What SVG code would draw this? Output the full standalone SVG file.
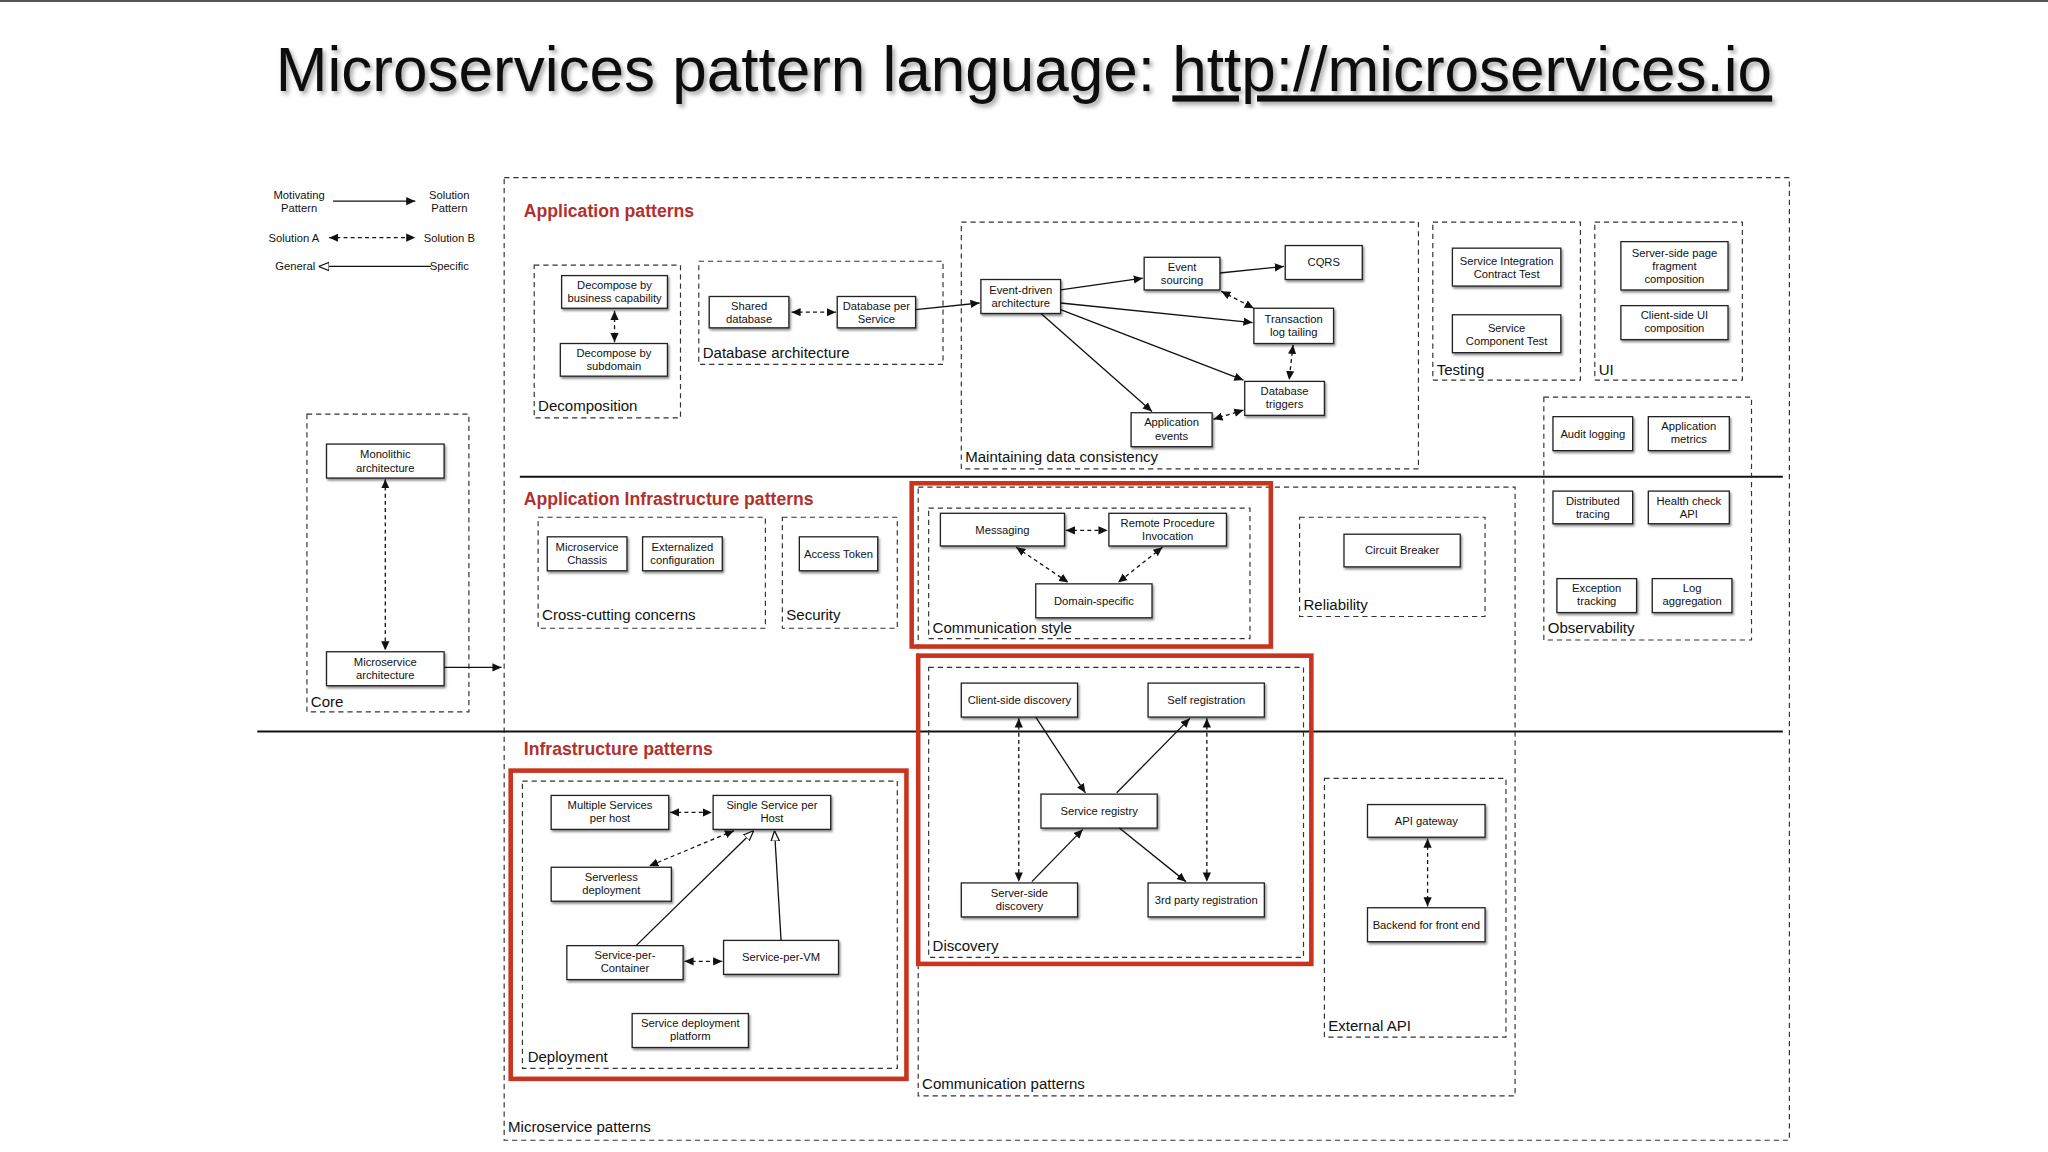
<svg xmlns="http://www.w3.org/2000/svg" width="2048" height="1152" viewBox="0 0 2048 1152">
<style>
text{font-family:"Liberation Sans",Arial,sans-serif;fill:#111}
.n rect{fill:#fff;stroke:#222;stroke-width:1;filter:url(#sh)}
.n text{font-size:8.6px;text-anchor:middle}
.g{fill:none;stroke:#333;stroke-width:0.9;stroke-dasharray:4 3}
.gl{font-size:11.5px}
.red{fill:none;stroke:#c9341f;stroke-width:3.5}
.sec{font-size:13.5px;font-weight:bold;fill:#b3302c}
.c line,.c path{stroke:#111;stroke-width:1;fill:none}
.d{stroke-dasharray:3 2.5}
.s{marker-end:url(#a)}
.b{marker-start:url(#as);marker-end:url(#a)}
.o{marker-end:url(#t)}
</style>
<defs>
<filter id="sh" x="-10%" y="-10%" width="130%" height="140%"><feDropShadow dx="1" dy="1.5" stdDeviation="0.8" flood-color="#000" flood-opacity="0.45"/></filter>
<filter id="tsh" x="-5%" y="-20%" width="110%" height="150%"><feDropShadow dx="2" dy="2.5" stdDeviation="1.5" flood-color="#000" flood-opacity="0.35"/></filter>
<marker id="a" viewBox="0 0 10 10" refX="10" refY="5" markerWidth="7" markerHeight="7" markerUnits="userSpaceOnUse" orient="auto"><path d="M0,0.5L10,5L0,9.5z" fill="#111"/></marker>
<marker id="as" viewBox="0 0 10 10" refX="0" refY="5" markerWidth="7" markerHeight="7" markerUnits="userSpaceOnUse" orient="auto"><path d="M10,0.5L0,5L10,9.5z" fill="#111"/></marker>
<marker id="t" viewBox="0 0 10 10" refX="10" refY="5" markerWidth="8" markerHeight="8" markerUnits="userSpaceOnUse" orient="auto"><path d="M0,1L10,5L0,9z" fill="#fff" stroke="#111" stroke-width="1.2"/></marker>
</defs>
<rect width="2048" height="1152" fill="#fff"/>
<line x1="0" y1="1" x2="2048" y2="1" stroke="#555" stroke-width="2"/>
<g transform="scale(1.30612)">
<g id="title"><text x="784" y="70" font-size="47.5" text-anchor="middle" fill="#111" filter="url(#tsh)">Microservices pattern language: <tspan text-decoration="underline">http://microservices.io</tspan></text></g>

<g id="legend" font-size="8.6">
<text x="229" y="152" font-size="8.6" text-anchor="middle">Motivating</text><text x="229" y="162" font-size="8.6" text-anchor="middle">Pattern</text>
<text x="344" y="152" font-size="8.6" text-anchor="middle">Solution</text><text x="344" y="162" font-size="8.6" text-anchor="middle">Pattern</text>
<text x="225" y="185" font-size="8.6" text-anchor="middle">Solution A</text><text x="344" y="185" font-size="8.6" text-anchor="middle">Solution B</text>
<text x="226" y="207" font-size="8.6" text-anchor="middle">General</text><text x="344" y="207" font-size="8.6" text-anchor="middle">Specific</text>
<g class="c"><line class="s" x1="255" y1="154" x2="318" y2="154"/><line class="b d" x1="252" y1="182" x2="318" y2="182"/><line class="o" x1="330" y1="204" x2="244" y2="204"/></g>
</g>

<g id="frames">
<rect class="g" x="386" y="136" width="984" height="737"/><text class="gl" x="389" y="867">Microservice patterns</text>
<line x1="398" y1="365" x2="1365" y2="365" stroke="#111" stroke-width="1.5"/>
<line x1="197" y1="560" x2="1365" y2="560" stroke="#111" stroke-width="1.5"/>
<text class="sec" x="401" y="166">Application patterns</text>
<text class="sec" x="401" y="387">Application Infrastructure patterns</text>
<text class="sec" x="401" y="578">Infrastructure patterns</text>
<rect class="g" x="409" y="203" width="112" height="117"/><text class="gl" x="412" y="315">Decomposition</text>
<rect class="g" x="535" y="200" width="187" height="79"/><text class="gl" x="538" y="274">Database architecture</text>
<rect class="g" x="736" y="170" width="350" height="189"/><text class="gl" x="739" y="354">Maintaining data consistency</text>
<rect class="g" x="1097" y="170" width="113" height="121"/><text class="gl" x="1100" y="287">Testing</text>
<rect class="g" x="1221" y="170" width="113" height="121"/><text class="gl" x="1224" y="287">UI</text>
<rect class="g" x="1182" y="304" width="159" height="186"/><text class="gl" x="1185" y="485">Observability</text>
<rect class="g" x="235" y="317" width="124" height="228"/><text class="gl" x="238" y="541">Core</text>
<rect class="g" x="412" y="396" width="174" height="85"/><text class="gl" x="415" y="475">Cross-cutting concerns</text>
<rect class="g" x="599" y="396" width="88" height="85"/><text class="gl" x="602" y="475">Security</text>
<rect class="g" x="703" y="373" width="457" height="466"/><text class="gl" x="706" y="834">Communication patterns</text>
<rect class="g" x="711" y="389" width="246" height="100"/><text class="gl" x="714" y="485">Communication style</text>
<rect class="red" x="698" y="370" width="275" height="125"/>
<rect class="g" x="995" y="396" width="142" height="76"/><text class="gl" x="998" y="467">Reliability</text>
<rect class="g" x="711" y="511" width="287" height="222"/><text class="gl" x="714" y="728">Discovery</text>
<rect class="red" x="703" y="502" width="301" height="236"/>
<rect class="g" x="1014" y="596" width="139" height="198"/><text class="gl" x="1017" y="789">External API</text>
<rect class="g" x="400" y="598" width="287" height="220"/><text class="gl" x="404" y="813">Deployment</text>
<rect class="red" x="391" y="590" width="303" height="236"/>
</g>

<g id="nodes">
<g id="n-dbc" class="n"><rect x="430" y="211" width="81" height="25"/><text x="470.5" y="221.5">Decompose by</text><text x="470.5" y="231.5">business capability</text></g>
<g id="n-dsd" class="n"><rect x="429" y="263" width="82" height="25"/><text x="470" y="273.5">Decompose by</text><text x="470" y="283.5">subdomain</text></g>
<g id="n-shdb" class="n"><rect x="543" y="227" width="61" height="24"/><text x="573.5" y="237">Shared</text><text x="573.5" y="247">database</text></g>
<g id="n-dbps" class="n"><rect x="641" y="227" width="60" height="24"/><text x="671" y="237">Database per</text><text x="671" y="247">Service</text></g>
<g id="n-eda" class="n"><rect x="751" y="214" width="61" height="26"/><text x="781.5" y="225">Event-driven</text><text x="781.5" y="235">architecture</text></g>
<g id="n-es" class="n"><rect x="876" y="197" width="58" height="25"/><text x="905" y="207.5">Event</text><text x="905" y="217.5">sourcing</text></g>
<g id="n-cqrs" class="n"><rect x="984" y="188" width="59" height="26"/><text x="1013.5" y="204">CQRS</text></g>
<g id="n-tlt" class="n"><rect x="960" y="236" width="61" height="27"/><text x="990.5" y="247">Transaction</text><text x="990.5" y="257">log tailing</text></g>
<g id="n-dt" class="n"><rect x="953" y="292" width="61" height="26"/><text x="983.5" y="302.5">Database</text><text x="983.5" y="312.5">triggers</text></g>
<g id="n-ae" class="n"><rect x="866" y="316" width="62" height="26"/><text x="897" y="326.5">Application</text><text x="897" y="336.5">events</text></g>
<g id="n-sict" class="n"><rect x="1112" y="190" width="83" height="29"/><text x="1153.5" y="203">Service Integration</text><text x="1153.5" y="213">Contract Test</text></g>
<g id="n-sct" class="n"><rect x="1112" y="241" width="83" height="29"/><text x="1153.5" y="254">Service</text><text x="1153.5" y="264">Component Test</text></g>
<g id="n-sspf" class="n"><rect x="1241" y="185" width="82" height="37"/><text x="1282" y="197">Server-side page</text><text x="1282" y="207">fragment</text><text x="1282" y="217">composition</text></g>
<g id="n-csui" class="n"><rect x="1241" y="234" width="82" height="26"/><text x="1282" y="244.5">Client-side  UI</text><text x="1282" y="254.5">composition</text></g>
<g id="n-al" class="n"><rect x="1189" y="319" width="61" height="26"/><text x="1219.5" y="335">Audit logging</text></g>
<g id="n-am" class="n"><rect x="1262" y="319" width="62" height="26"/><text x="1293" y="329.5">Application</text><text x="1293" y="339.5">metrics</text></g>
<g id="n-dtr" class="n"><rect x="1189" y="376" width="61" height="25"/><text x="1219.5" y="386.5">Distributed</text><text x="1219.5" y="396.5">tracing</text></g>
<g id="n-hc" class="n"><rect x="1262" y="376" width="62" height="25"/><text x="1293" y="386.5">Health check</text><text x="1293" y="396.5">API</text></g>
<g id="n-et" class="n"><rect x="1192" y="443" width="61" height="26"/><text x="1222.5" y="453.5">Exception</text><text x="1222.5" y="463.5">tracking</text></g>
<g id="n-la" class="n"><rect x="1265" y="443" width="61" height="26"/><text x="1295.5" y="453.5">Log</text><text x="1295.5" y="463.5">aggregation</text></g>
<g id="n-mono" class="n"><rect x="250" y="340" width="90" height="26"/><text x="295" y="351">Monolithic</text><text x="295" y="361">architecture</text></g>
<g id="n-msa" class="n"><rect x="250" y="499" width="90" height="26"/><text x="295" y="510">Microservice</text><text x="295" y="520">architecture</text></g>
<g id="n-chassis" class="n"><rect x="419" y="411" width="61" height="26"/><text x="449.5" y="421.5">Microservice</text><text x="449.5" y="431.5">Chassis</text></g>
<g id="n-ext" class="n"><rect x="492" y="411" width="61" height="26"/><text x="522.5" y="421.5">Externalized</text><text x="522.5" y="431.5">configuration</text></g>
<g id="n-at" class="n"><rect x="612" y="411" width="60" height="26"/><text x="642" y="427">Access Token</text></g>
<g id="n-msg" class="n"><rect x="720" y="393" width="95" height="25"/><text x="767.5" y="408.5">Messaging</text></g>
<g id="n-rpi" class="n"><rect x="849" y="393" width="90" height="25"/><text x="894" y="403.5">Remote Procedure</text><text x="894" y="413.5">Invocation</text></g>
<g id="n-ds" class="n"><rect x="793" y="447" width="89" height="26"/><text x="837.5" y="463">Domain-specific</text></g>
<g id="n-cb" class="n"><rect x="1029" y="409" width="89" height="25"/><text x="1073.5" y="424.5">Circuit Breaker</text></g>
<g id="n-csd" class="n"><rect x="736" y="523" width="89" height="26"/><text x="780.5" y="539">Client-side discovery</text></g>
<g id="n-selfreg" class="n"><rect x="879" y="523" width="89" height="26"/><text x="923.5" y="539">Self registration</text></g>
<g id="n-sreg" class="n"><rect x="797" y="608" width="89" height="26"/><text x="841.5" y="624">Service registry</text></g>
<g id="n-ssd" class="n"><rect x="736" y="676" width="89" height="26"/><text x="780.5" y="686.5">Server-side</text><text x="780.5" y="696.5">discovery</text></g>
<g id="n-3pr" class="n"><rect x="879" y="676" width="89" height="26"/><text x="923.5" y="692">3rd party registration</text></g>
<g id="n-apigw" class="n"><rect x="1047" y="616" width="90" height="25"/><text x="1092" y="631.5">API gateway</text></g>
<g id="n-bff" class="n"><rect x="1047" y="695" width="90" height="26"/><text x="1092" y="711">Backend for front end</text></g>
<g id="n-msph" class="n"><rect x="422" y="609" width="90" height="26"/><text x="467" y="619.5">Multiple Services</text><text x="467" y="629.5">per host</text></g>
<g id="n-ssph" class="n"><rect x="546" y="609" width="90" height="26"/><text x="591" y="619.5">Single Service per</text><text x="591" y="629.5">Host</text></g>
<g id="n-sls" class="n"><rect x="422" y="664" width="92" height="26"/><text x="468" y="674.5">Serverless</text><text x="468" y="684.5">deployment</text></g>
<g id="n-spc" class="n"><rect x="434" y="724" width="89" height="26"/><text x="478.5" y="734.5">Service-per-</text><text x="478.5" y="744.5">Container</text></g>
<g id="n-spvm" class="n"><rect x="554" y="720" width="88" height="26"/><text x="598" y="736">Service-per-VM</text></g>
<g id="n-sdp" class="n"><rect x="484" y="776" width="89" height="26"/><text x="528.5" y="786.5">Service deployment</text><text x="528.5" y="796.5">platform</text></g>
</g>

<g id="connectors" class="c">
<line class="b d" x1="470.5" y1="238" x2="470.5" y2="262"/>
<line class="b d" x1="606" y1="239" x2="640" y2="239"/>
<line class="s" x1="701" y1="237" x2="750" y2="232"/>
<line class="s" x1="812" y1="222" x2="875" y2="213"/>
<line class="s" x1="934" y1="209" x2="983" y2="204"/>
<line class="s" x1="812" y1="232" x2="959" y2="247"/>
<line class="s" x1="812" y1="237" x2="952" y2="291"/>
<line class="s" x1="797" y1="240" x2="882" y2="315"/>
<line class="b d" x1="935" y1="223" x2="960" y2="236"/>
<line class="b d" x1="990" y1="264" x2="987" y2="291"/>
<line class="b d" x1="952" y1="314" x2="929" y2="321"/>
<line class="b d" x1="295" y1="367" x2="295" y2="498"/>
<line class="s" x1="340" y1="511" x2="384" y2="511"/>
<line class="b d" x1="816" y1="406" x2="848" y2="406"/>
<line class="b d" x1="778" y1="419" x2="818" y2="446"/>
<line class="b d" x1="890" y1="419" x2="856" y2="446"/>
<line class="s" x1="793" y1="549" x2="831" y2="607"/>
<line class="s" x1="855" y1="607" x2="911" y2="550"/>
<line class="s" x1="790" y1="675" x2="829" y2="635"/>
<line class="s" x1="857" y1="634" x2="908" y2="675"/>
<line class="b d" x1="780" y1="550" x2="780" y2="675"/>
<line class="b d" x1="924" y1="550" x2="924" y2="675"/>
<line class="b d" x1="1093" y1="642" x2="1093" y2="694"/>
<line class="b d" x1="513" y1="622" x2="545" y2="622"/>
<line class="b d" x1="562" y1="636" x2="497" y2="663"/>
<line class="o" x1="487" y1="724" x2="577" y2="636"/>
<line class="o" x1="598" y1="720" x2="593" y2="636"/>
<line class="b d" x1="524" y1="736" x2="553" y2="736"/>
</g>
</g>
</svg>
